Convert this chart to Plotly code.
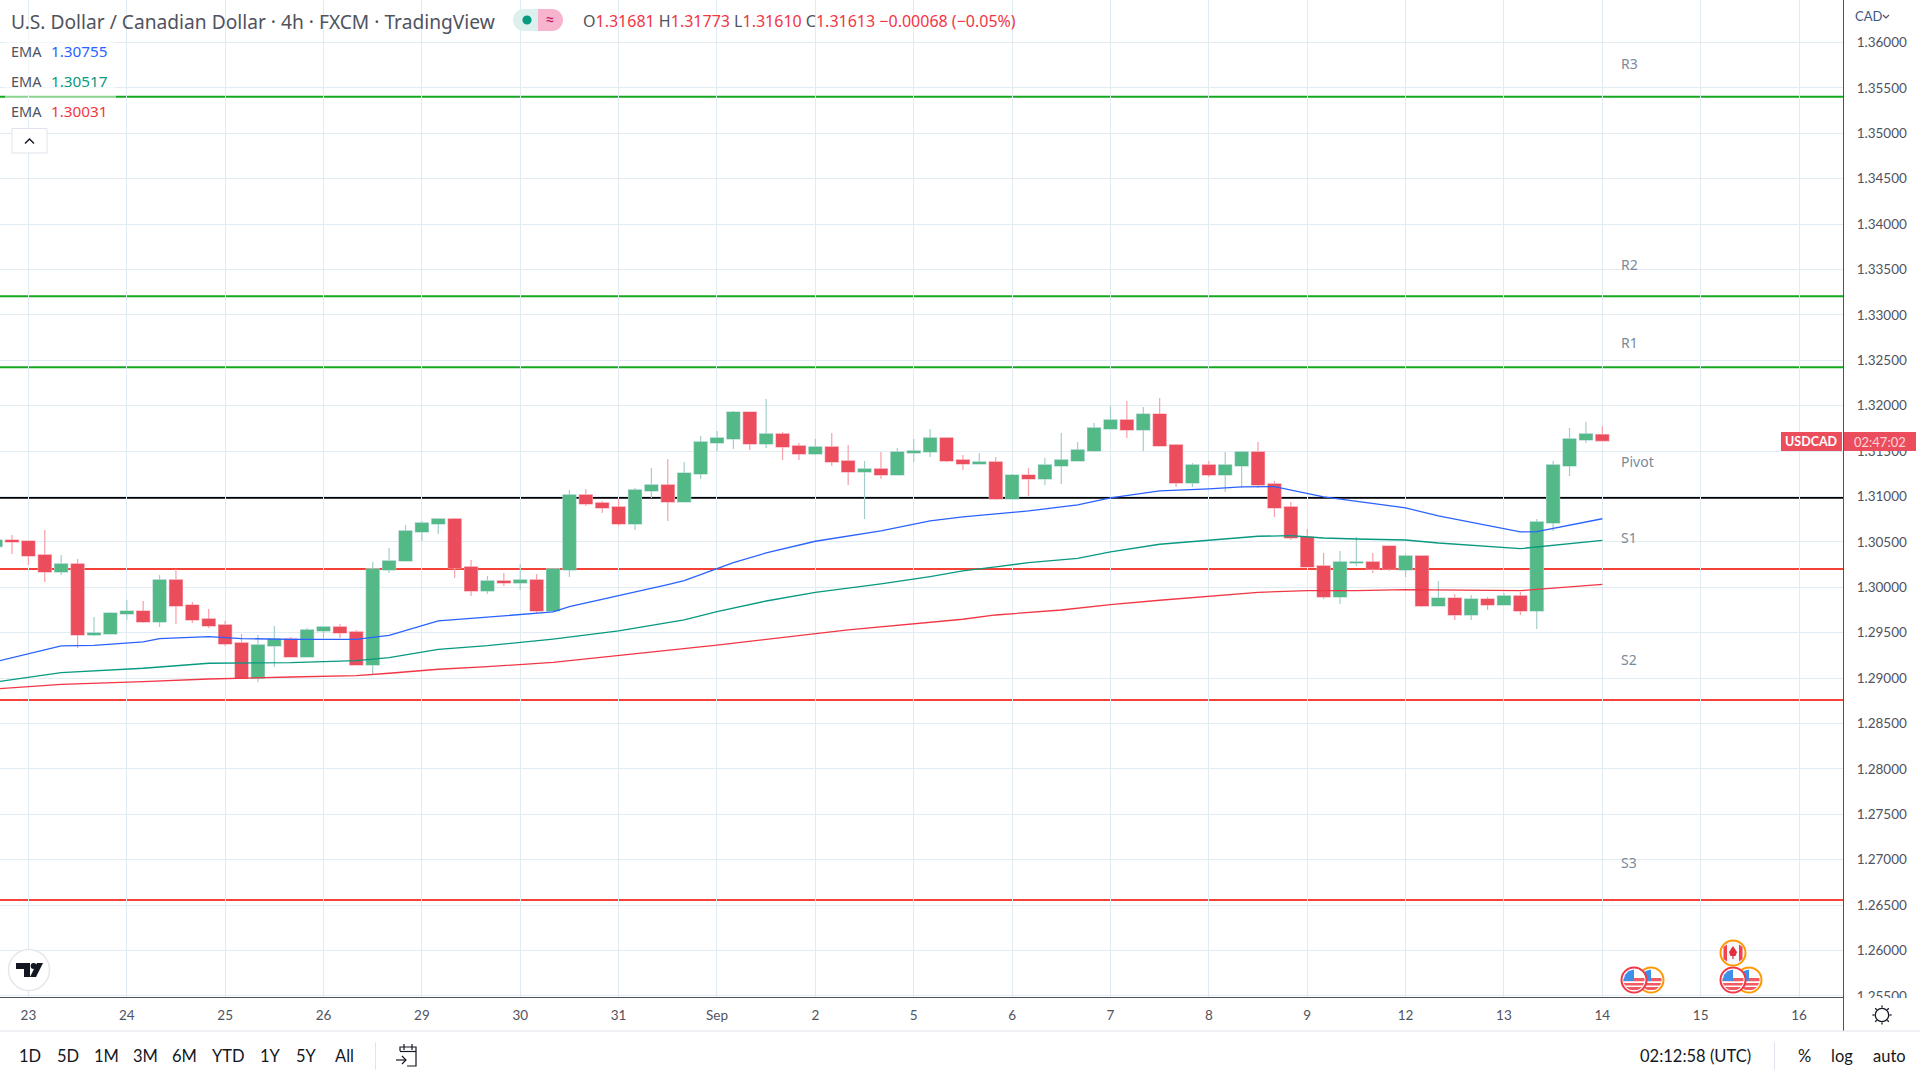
import math
import plotly.graph_objects as go

# ---------- data ----------
bar_index = list(range(-2, 97))
opens = [
 1.30448,1.30521,1.30510,1.30356,1.30169,1.30257,1.29475,1.29486,1.29706,1.29739,
 1.29618,1.30081,1.29805,1.29651,1.29585,1.29387,1.28998,1.29354,1.29431,1.29233,
 1.29519,1.29563,1.29508,1.29144,1.30191,1.30290,1.30610,1.30698,1.30753,1.30224,
 1.29960,1.30070,1.30048,1.30081,1.29739,1.30191,1.31017,1.30929,1.30885,1.30698,
 1.31061,1.31127,1.30940,1.31248,1.31590,1.31634,1.31931,1.31579,1.31689,1.31557,
 1.31469,1.31546,1.31392,1.31271,1.31304,1.31237,1.31480,1.31491,1.31645,1.31403,
 1.31359,1.31381,1.30973,1.31237,1.31193,1.31337,1.31392,1.31502,1.31744,1.31843,
 1.31733,1.31909,1.31568,1.31149,1.31348,1.31237,1.31337,1.31491,1.31138,1.30885,
 1.30554,1.30235,1.29894,1.30268,1.30279,1.30455,1.30191,1.30345,1.29794,1.29882,
 1.29695,1.29871,1.29805,1.29905,1.29739,1.30709,1.31337,1.31623,1.31681]
highs = [
 1.30521,1.30577,1.30510,1.30632,1.30356,1.30312,1.29673,1.29728,1.29860,1.29849,
 1.30136,1.30202,1.29838,1.29761,1.29629,1.29486,1.29475,1.29574,1.29453,1.29552,
 1.29563,1.29596,1.29530,1.30279,1.30433,1.30687,1.30731,1.30764,1.30764,1.30301,
 1.30125,1.30158,1.30257,1.30147,1.30202,1.31072,1.31083,1.30951,1.30973,1.31094,
 1.31315,1.31414,1.31381,1.31667,1.31722,1.31942,1.31931,1.32075,1.31711,1.31590,
 1.31634,1.31700,1.31568,1.31392,1.31491,1.31535,1.31634,1.31744,1.31656,1.31458,
 1.31480,1.31436,1.31248,1.31315,1.31425,1.31700,1.31601,1.31810,1.31998,1.32053,
 1.31987,1.32086,1.31579,1.31370,1.31392,1.31491,1.31502,1.31601,1.31171,1.30940,
 1.30643,1.30378,1.30400,1.30554,1.30378,1.30455,1.30367,1.30345,1.30070,1.29927,
 1.29916,1.29894,1.29938,1.29949,1.30753,1.31392,1.31755,1.31821,1.31773]
lows = [
 1.30448,1.30367,1.30246,1.30059,1.30136,1.29332,1.29464,1.29486,1.29640,1.29607,
 1.29563,1.29596,1.29607,1.29552,1.29354,1.28998,1.28957,1.29122,1.29233,1.29233,
 1.29438,1.29442,1.29144,1.29045,1.30158,1.30290,1.30510,1.30588,1.30103,1.29905,
 1.29927,1.30015,1.29971,1.29717,1.29739,1.30114,1.30896,1.30819,1.30676,1.30632,
 1.30984,1.30731,1.30940,1.31193,1.31502,1.31524,1.31513,1.31535,1.31403,1.31403,
 1.31458,1.31337,1.31127,1.30753,1.31193,1.31237,1.31381,1.31436,1.31381,1.31293,
 1.31359,1.30962,1.30973,1.31006,1.31127,1.31138,1.31392,1.31491,1.31744,1.31645,
 1.31502,1.31557,1.31105,1.31105,1.31215,1.31050,1.31094,1.31094,1.30775,1.30521,
 1.30224,1.29871,1.29816,1.30235,1.30158,1.30180,1.30114,1.29783,1.29794,1.29640,
 1.29640,1.29750,1.29805,1.29695,1.29541,1.30621,1.31226,1.31590,1.31610]
closes = [
 1.30521,1.30499,1.30345,1.30169,1.30257,1.29475,1.29497,1.29717,1.29739,1.29618,
 1.30081,1.29794,1.29640,1.29574,1.29376,1.28998,1.29365,1.29431,1.29233,1.29530,
 1.29563,1.29497,1.29144,1.30202,1.30290,1.30621,1.30709,1.30753,1.30213,1.29960,
 1.30070,1.30048,1.30081,1.29739,1.30202,1.31017,1.30918,1.30874,1.30698,1.31072,
 1.31127,1.30940,1.31259,1.31601,1.31645,1.31931,1.31579,1.31689,1.31546,1.31469,
 1.31546,1.31381,1.31271,1.31304,1.31237,1.31491,1.31502,1.31645,1.31392,1.31359,
 1.31381,1.30973,1.31237,1.31193,1.31348,1.31403,1.31513,1.31755,1.31843,1.31733,
 1.31909,1.31557,1.31149,1.31348,1.31237,1.31348,1.31491,1.31127,1.30874,1.30543,
 1.30224,1.29894,1.30279,1.30279,1.30202,1.30202,1.30345,1.29794,1.29882,1.29695,
 1.29871,1.29805,1.29905,1.29739,1.30720,1.31348,1.31634,1.31689,1.31613]

ema_blue_x = [-2,2,4,7,8,11,13,16,20,22,25,28,31,32,33,36,39,40,42,43,45,48,52,55,57,59,61,63,64,66,69,72,74,76,79,84,86,91,92,96]
ema_blue_y = [1.29181,1.29354,1.29361,1.29398,1.29435,1.29457,1.29435,1.29427,1.29427,1.29471,1.29629,1.29673,
              1.29710,1.29728,1.29787,1.29905,1.30029,1.30073,1.30202,1.30272,1.30378,1.30507,1.30621,1.30731,
              1.30775,1.30808,1.30841,1.30885,1.30907,1.30984,1.31061,1.31083,1.31105,1.31109,1.30995,1.30874,
              1.30786,1.30610,1.30613,1.30755]
ema_green_x = [-2,2,7,11,16,20,22,25,28,32,36,40,42,45,48,52,55,57,59,61,64,66,69,72,75,77,79,81,84,86,91,96]
ema_green_y = [1.28957,1.29060,1.29108,1.29163,1.29170,1.29192,1.29225,1.29317,1.29357,1.29430,1.29519,1.29640,
               1.29732,1.29849,1.29945,1.30037,1.30118,1.30180,1.30224,1.30272,1.30319,1.30389,1.30474,1.30514,
               1.30562,1.30569,1.30543,1.30532,1.30521,1.30488,1.30426,1.30517]
ema_red_x = [-2,2,7,11,16,20,22,25,28,32,42,50,57,59,63,66,69,72,75,78,81,84,86,91,96]
ema_red_y = [1.28880,1.28931,1.28961,1.28990,1.29012,1.29027,1.29053,1.29097,1.29126,1.29172,1.29364,1.29530,
             1.29648,1.29695,1.29750,1.29809,1.29857,1.29897,1.29945,1.29963,1.29963,1.29974,1.29971,1.29963,1.30031]

pivot_names = ["R3", "R2", "R1", "Pivot", "S1", "S2", "S3"]
pivot_levels = [1.35404, 1.33206, 1.32423, 1.30987, 1.30202, 1.28759, 1.26555]
pivot_colors = ["#14a81f", "#14a81f", "#14a81f", "#000000", "#f44336", "#f44336", "#f44336"]
pivot_label_y = [63.5, 264, 342.5, 461.5, 537.2, 659.5, 862.5]

tick_days = list(range(0, 109, 6))
tick_day_labels = ["23","24","25","26","29","30","31","Sep","2","5","6","7","8","9","12","13","14","15","16"]
price_ticks = [round(1.255 + 0.005*k, 3) for k in range(22)]
price_labels = ["%.5f" % p for p in price_ticks]

W, H = 1920, 1080
PR, PB = 1843, 997          # plot area right / bottom in pixels
px = lambda x: x / PR
py = lambda y: 1 - y / PB
FONT = "'Noto Sans', Lato, sans-serif"
AXFONT = "Lato, 'Noto Sans', sans-serif"
GREEN, RED = "#53b987", "#eb4d5c"

fig = go.Figure()
for xs, ys, c in [(ema_red_x, ema_red_y, "#f23645"), (ema_green_x, ema_green_y, "#089981"), (ema_blue_x, ema_blue_y, "#2962ff")]:
    fig.add_trace(go.Scatter(x=xs, y=ys, mode="lines", line=dict(color=c, width=1.3), hoverinfo="skip"))

# wicks, then solid bodies over them
fig.add_trace(go.Candlestick(x=bar_index, open=opens, high=highs, low=lows, close=closes, whiskerwidth=0,
    increasing=dict(line=dict(color="#a3cfcb", width=1.2), fillcolor="#a3cfcb"),
    decreasing=dict(line=dict(color="#f6a0ab", width=1.2), fillcolor="#f6a0ab"), hoverinfo="skip"))
fig.add_trace(go.Candlestick(x=bar_index, open=opens, high=[max(a, b) for a, b in zip(opens, closes)],
    low=[min(a, b) for a, b in zip(opens, closes)], close=closes, whiskerwidth=0,
    increasing=dict(line=dict(color=GREEN, width=0), fillcolor=GREEN),
    decreasing=dict(line=dict(color=RED, width=0), fillcolor=RED), hoverinfo="skip"))

shapes, notes = [], []

def note(x, y, text, size=15, color="#50535e", anchor="left", family=FONT):
    notes.append(dict(x=px(x), y=py(y), xref="paper", yref="paper", text=text, showarrow=False,
                      xanchor=anchor, yanchor="middle", align=anchor, borderpad=0, borderwidth=0,
                      font=dict(family=family, size=size, color=color)))

def rect(x0, y0, x1, y1, fill, line=None, lw=0, layer="above"):
    shapes.append(dict(type="rect", xref="paper", yref="paper", x0=px(x0), x1=px(x1), y0=py(y0), y1=py(y1),
                       fillcolor=fill, line=dict(color=line or "rgba(0,0,0,0)", width=lw), layer=layer))

def hline(x0, y0, x1, y1, color, lw=1):
    shapes.append(dict(type="line", xref="paper", yref="paper", x0=px(x0), x1=px(x1), y0=py(y0), y1=py(y1),
                       line=dict(color=color, width=lw), layer="above"))

def circ(cx, cy, r, fill, line=None, lw=0):
    shapes.append(dict(type="circle", xref="paper", yref="paper", x0=px(cx-r), x1=px(cx+r), y0=py(cy-r), y1=py(cy+r),
                       fillcolor=fill, line=dict(color=line or "rgba(0,0,0,0)", width=lw), layer="above"))

def path(points, fill=None, line=None, lw=0, close=True):
    d = "M " + " L ".join("%.5f,%.5f" % (px(a), py(b)) for a, b in points) + (" Z" if close else "")
    shapes.append(dict(type="path", xref="paper", yref="paper", path=d, fillcolor=fill or "rgba(0,0,0,0)",
                       line=dict(color=line or "rgba(0,0,0,0)", width=lw), layer="above"))

# pivot lines under the candles
for lvl, col in zip(pivot_levels, pivot_colors):
    shapes.append(dict(type="line", xref="paper", yref="y", x0=0, x1=1, y0=lvl, y1=lvl,
                       line=dict(color=col, width=2), layer="below"))
for name, yy in zip(pivot_names, pivot_label_y):
    note(1621, yy, name, size=14, color="#7b8a9a")

# legend veil over R3 line
rect(5, 25, 116, 120, "rgba(255,255,255,0.5)")

# cover for clipped tick label and price tag
rect(1844, 998, 1920, 1030, "#ffffff")
hline(1843.5, 0, 1843.5, 1031, "#50535e", 1)
hline(0, 1031, 1920, 1031, "#e0e3eb", 1)
rect(1781, 432, 1842, 451, RED)
rect(1844, 432, 1916, 451, RED)
note(1811.5, 441.8, "<b>USDCAD</b>", size=12.5, color="#ffffff", anchor="center", family=AXFONT)
note(1880, 441.8, "02:47:02", size=13, color="#fbd5d9", anchor="center", family=AXFONT)
note(1855, 16, "CAD", size=13, color="#3d5a80", family=AXFONT)
path([(1883, 15), (1886, 18), (1889, 15)], line="#50535e", lw=1.2, close=False)

# header
note(11, 21, "U.S. Dollar / Canadian Dollar · 4h · FXCM · TradingView", size=19.2, color="#50535e")
rect(524, 9, 538, 31, "#dcf1ee")
circ(524, 20, 11, "#dcf1ee")
rect(538, 9, 552, 31, "#f8b4cf")
circ(552, 20, 11, "#f8b4cf")
circ(527, 20, 4.6, "#089981")
note(549.5, 20, "≈", size=17, color="#c2185b", anchor="center")
rv = '<span style="color:#f23645">%s</span>'
note(583, 21, "O" + rv % "1.31681" + " H" + rv % "1.31773" + " L" + rv % "1.31610" + " C" + rv % "1.31613" + " " + rv % "−0.00068 (−0.05%)", size=16, color="#50535e")
for yy, val, col in [(50.5, "1.30755", "#2962ff"), (80.5, "1.30517", "#089981"), (110.5, "1.30031", "#f23645")]:
    note(11, yy, "EMA", size=14.5)
    note(51, yy, val, size=15.3, color=col)
rect(12, 128.5, 47, 153, "#ffffff", "#e0e3eb", 1)
path([(25, 143.5), (29.5, 139), (34, 143.5)], line="#131722", lw=1.4, close=False)

# TradingView badge
circ(29, 970, 20.5, "#ffffff", "#e5e7ec", 1.5)
path([(16, 963), (30, 963), (30, 977), (24, 977), (24, 969), (16, 969)], fill="#131722")
circ(33.6, 966, 3, "#131722")
path([(37, 963), (43, 963), (36, 977), (30, 977)], fill="#131722")

# flags
def chord(cx, cy, ri, a, b, fill):
    pts = []
    for t in [a + (b-a)*k/6 for k in range(7)]:
        pts.append((cx + ri*math.sqrt(max(0, 1-t*t)), cy + ri*t))
    for t in [b - (b-a)*k/6 for k in range(7)]:
        pts.append((cx - ri*math.sqrt(max(0, 1-t*t)), cy + ri*t))
    path(pts, fill=fill)

def us_flag(cx, cy, r, ring):
    circ(cx, cy, r, "#ffffff", ring, 2)
    ri = r - 2
    for a, b in [(-0.20, 0.12), (0.28, 0.52), (0.66, 0.95)]:
        chord(cx, cy, ri, a, b, "#f05a63")
    path([(cx-ri*0.86, cy-ri*0.5), (cx-ri*0.5, cy-ri*0.86), (cx, cy-ri), (cx, cy+ri*0.1), (cx-ri, cy+ri*0.1)], fill="#3d8fe8")

us_flag(1651, 980, 12.5, "#ff9800")
us_flag(1634, 980, 12.5, "#f23645")
us_flag(1749, 980, 12.5, "#ff9800")
us_flag(1733, 980, 12.5, "#f23645")
circ(1733, 953, 12.5, "#f5f7fb", "#ff9800", 2)
path([(1723.5, 947), (1727, 944.5), (1727, 961.5), (1723.5, 959)], fill="#f0444f")
path([(1742.5, 947), (1739, 944.5), (1739, 961.5), (1742.5, 959)], fill="#f0444f")
path([(1733, 946), (1737, 952), (1735.5, 956), (1733.6, 956), (1733.6, 959), (1732.4, 959), (1732.4, 956), (1730.5, 956), (1729, 952)], fill="#e03040")

# bottom bar
for x, t in [(30, "1D"), (67.5, "5D"), (106, "1M"), (145, "3M"), (184, "6M"), (228, "YTD"), (270, "1Y"), (306, "5Y"), (344, "All")]:
    note(x, 1055.5, t, size=16.5, color="#131722", anchor="center", family=AXFONT)
hline(375.5, 1042, 375.5, 1070, "#e0e3eb", 1)
note(1695, 1055.5, "02:12:58 (UTC)", size=16.5, color="#131722", anchor="center", family=AXFONT)
hline(1774.5, 1042, 1774.5, 1070, "#e0e3eb", 1)
for x, t in [(1804, "%"), (1842, "log"), (1889, "auto")]:
    note(x, 1055.5, t, size=16.5, color="#131722", anchor="center", family=AXFONT)
# calendar icon
path([(400, 1051), (400, 1047), (416, 1047), (416, 1066), (407, 1066)], line="#131722", lw=1.2, close=False)
hline(400, 1051.5, 416, 1051.5, "#131722", 1.2)
hline(404, 1044, 404, 1050, "#131722", 1.2)
hline(412, 1044, 412, 1050, "#131722", 1.2)
path([(396, 1060), (406, 1060)], line="#131722", lw=1.2, close=False)
path([(402, 1056), (406, 1060), (402, 1064)], line="#131722", lw=1.2, close=False)
# settings icon
circ(1882, 1015, 6.7, "#ffffff", "#131722", 1.3)
for k in range(8):
    a = k * math.pi / 4
    hline(1882 + 7.5*math.cos(a), 1015 + 7.5*math.sin(a), 1882 + 9.6*math.cos(a), 1015 + 9.6*math.sin(a), "#131722", 1.3)

fig.update_layout(
    width=W, height=H, autosize=False, showlegend=False, paper_bgcolor="#ffffff", plot_bgcolor="#ffffff",
    margin=dict(l=0, r=W-PR, t=0, b=H-PB), boxmode="overlay", boxgap=0.21, boxgroupgap=0, hovermode=False,
    font=dict(family=FONT), shapes=shapes, annotations=notes,
    xaxis=dict(range=[-1.732, 110.68], tickmode="array", tickvals=tick_days, ticktext=tick_day_labels,
               rangeslider=dict(visible=False), showgrid=True, gridcolor="#e1ecf2", gridwidth=1, zeroline=False,
               showline=True, linecolor="#50535e", linewidth=1, ticks="outside", ticklen=6, tickcolor="rgba(0,0,0,0)",
               tickfont=dict(size=13.5, color="#50535e", family=AXFONT), fixedrange=True),
    yaxis=dict(side="right", range=[1.25487, 1.36469], tickmode="array", tickvals=price_ticks, ticktext=price_labels,
               showgrid=True, gridcolor="#e1ecf2", gridwidth=1, zeroline=False, showline=False,
               ticks="outside", ticklen=10, tickcolor="rgba(0,0,0,0)",
               tickfont=dict(size=13.5, color="#50535e", family=AXFONT), fixedrange=True),
)
fig.write_html("out.html", config=dict(displayModeBar=False),
               post_script="document.body.style.margin='0';document.body.style.overflow='hidden';")
